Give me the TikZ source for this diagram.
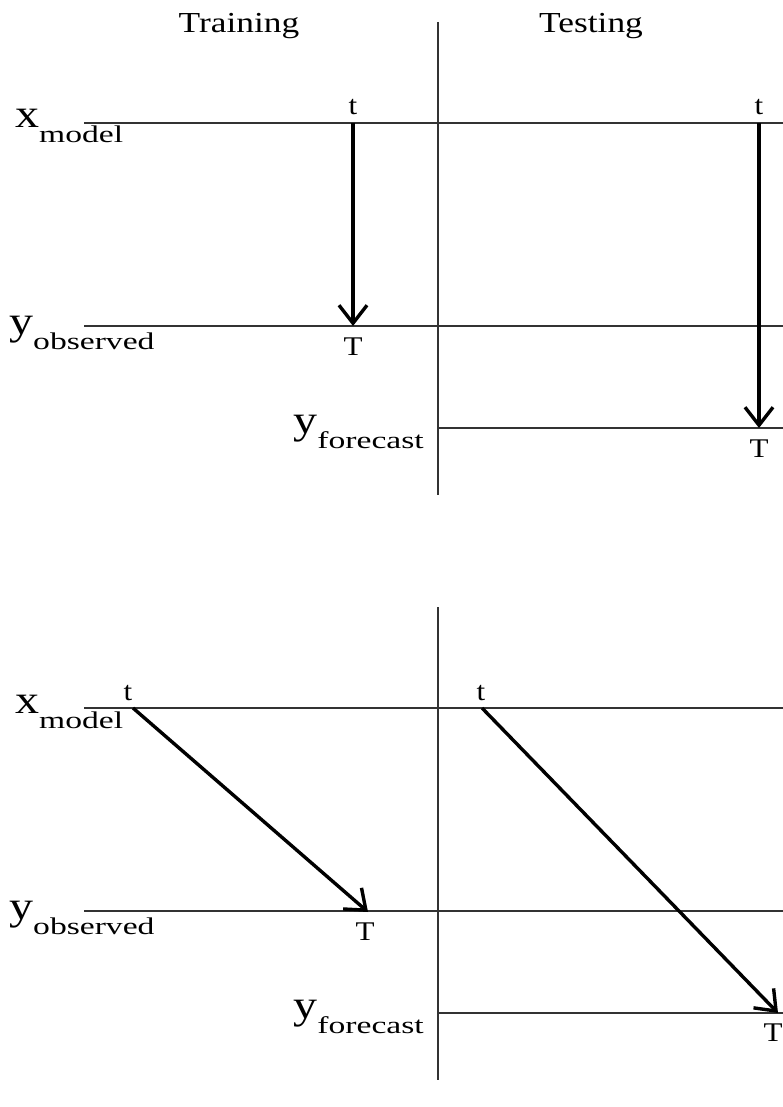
\documentclass[tikz,border=0pt]{standalone}
\usepackage{fontspec}
\setmainfont{Liberation Serif}
\usetikzlibrary{arrows.meta}

% variable name with a lowered, wider subscript
\newcommand{\varname}[2]{\scalebox{1.2}[1]{\fontsize{40}{40}\selectfont #1}\raisebox{-15pt}{\scalebox{1.4}[1]{\fontsize{24}{24}\selectfont #2}}}

\begin{document}
\begin{tikzpicture}[x=1pt, y=-1pt,
    axis/.style={draw=black!80, line width=1.2pt},
    flow/.style={-{Straight Barb[length=18pt,width=28pt]}, line width=3.4pt},
    title/.style={inner sep=0pt, anchor=base, font=\fontsize{29}{29}\selectfont},
    var/.style={inner sep=0pt},
    small/.style={inner sep=0pt, font=\fontsize{27}{27}\selectfont}
]
    \useasboundingbox (0,0) rectangle (783,1107);

    % Column titles
    \node[title] (train) at (239,33) {\scalebox{1.22}[1]{Training}};
    \node[title] (test) at (591,33) {\scalebox{1.22}[1]{Testing}};

    % Time axes of both panels (second one 585 lower)
    \foreach \p/\dy in {a/0, b/585} {
        \coordinate (sepTop\p) at (438,22+\dy);
        \coordinate (sepBot\p) at (438,495+\dy);
        \coordinate (xmL\p) at (84,123+\dy);
        \coordinate (xmR\p) at (783,123+\dy);
        \coordinate (yoL\p) at (84,326+\dy);
        \coordinate (yoR\p) at (783,326+\dy);
        \coordinate (yfL\p) at (438,428+\dy);
        \coordinate (yfR\p) at (783,428+\dy);
        \draw[axis] (sepTop\p) -- (sepBot\p);
        \draw[axis] (xmL\p) -- (xmR\p);
        \draw[axis] (yoL\p) -- (yoR\p);
        \draw[axis] (yfL\p) -- (yfR\p);
        \node[var, anchor=base west] (xm\p) at (15,128+\dy) {\varname{x}{model}};
        \node[var, anchor=base west] (yo\p) at (9,334+\dy) {\varname{y}{observed}};
        \node[var, anchor=base east] (yf\p) at (424,433+\dy) {\varname{y}{forecast}};
    }

    % Upper panel: straight down
    \coordinate (trainA) at (353,123);
    \coordinate (trainB) at (353,326);
    \coordinate (testA) at (759,123);
    \coordinate (testB) at (759,428);
    \node[small, anchor=base] (ta) at (353,115) {\scalebox{1.15}[1]{t}};
    \node[small, anchor=north] (Ta) at (353,338) {\scalebox{1.15}[1]{T}};
    \node[small, anchor=base] (tb) at (759,115) {\scalebox{1.15}[1]{t}};
    \node[small, anchor=north] (Tb) at (759,440) {\scalebox{1.15}[1]{T}};
    \draw[flow] (trainA) -- (trainB);
    \draw[flow] (testA) -- (testB);

    % Lower panel: slanted
    \coordinate (trainC) at (133,708);
    \coordinate (trainD) at (368,912);
    \coordinate (testC) at (482,708);
    \coordinate (testD) at (778,1013);
    \node[small, anchor=base] (tc) at (128,700) {\scalebox{1.15}[1]{t}};
    \node[small, anchor=north] (Tc) at (365,923) {\scalebox{1.15}[1]{T}};
    \node[small, anchor=base] (td) at (481,700) {\scalebox{1.15}[1]{t}};
    \node[small, anchor=north] (Td) at (773,1024) {\scalebox{1.15}[1]{T}};
    \draw[flow] (trainC) -- (trainD);
    \draw[flow] (testC) -- (testD);
\end{tikzpicture}
\end{document}
